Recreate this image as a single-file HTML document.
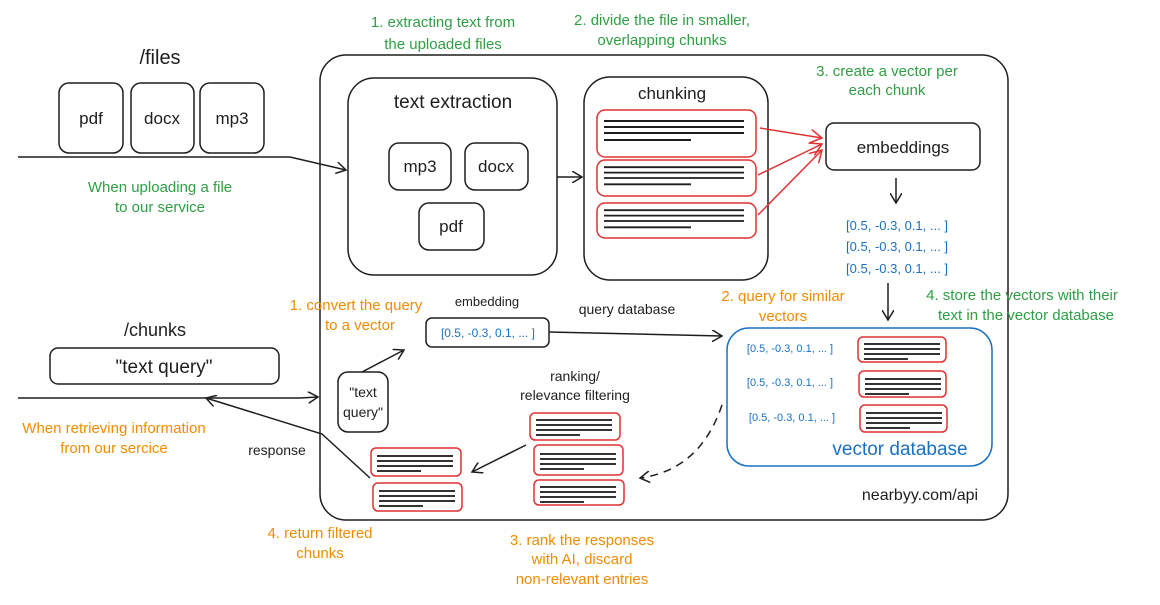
<!DOCTYPE html>
<html><head><meta charset="utf-8"><style>
body{margin:0;background:#fff;width:1160px;height:600px;overflow:hidden}
text{font-family:"Liberation Sans",sans-serif}
.g{fill:#2f9e44;font-size:15px}
.o{fill:#f08c00;font-size:15px}
.k{fill:#1e1e1e}
.b{fill:#1971c2}
</style></head><body>
<svg width="1160" height="600" viewBox="0 0 1160 600" xmlns="http://www.w3.org/2000/svg">
<defs>
<marker id="ak" markerWidth="12" markerHeight="12" refX="10" refY="6" orient="auto" markerUnits="userSpaceOnUse"><path d="M0,0 L10,6 L0,12" fill="none" stroke="#1e1e1e" stroke-width="1.5"/></marker>
<marker id="ar" markerWidth="14" markerHeight="14" refX="12" refY="7" orient="auto" markerUnits="userSpaceOnUse"><path d="M0,0 L12,7 L0,14" fill="none" stroke="#e03131" stroke-width="1.5"/></marker>
<g id="lines"><path d="M8,8 H148 M8,14 H148 M8,20 H148 M8,27 H95" stroke="#1e1e1e" stroke-width="2"/></g>
<g id="sl"><path d="M6,7 H82 M6,12 H82 M6,17 H82 M6,22 H50" stroke="#333" stroke-width="2"/></g>
</defs>
<g fill="none" stroke="#1e1e1e" stroke-width="1.5">
<rect x="320" y="55" width="688" height="465" rx="26"/>
<rect x="348" y="78" width="209" height="197" rx="26"/>
<rect x="389" y="143" width="62" height="47" rx="10"/>
<rect x="465" y="143" width="63" height="47" rx="10"/>
<rect x="419" y="203" width="65" height="47" rx="10"/>
<rect x="584" y="77" width="184" height="203" rx="26"/>
<rect x="826" y="123" width="154" height="47" rx="8"/>
<rect x="59" y="83" width="64" height="70" rx="10"/>
<rect x="131" y="83" width="63" height="70" rx="10"/>
<rect x="200" y="83" width="64" height="70" rx="10"/>
<rect x="50" y="348" width="229" height="36" rx="8"/>
<rect x="426" y="318" width="123" height="29" rx="6"/>
<rect x="338" y="372" width="50" height="60" rx="10"/>
</g>
<rect x="727" y="328" width="265" height="138" rx="22" fill="none" stroke="#1971c2" stroke-width="1.5"/>
<g fill="none" stroke="#e03131" stroke-width="1.5">
<rect x="597" y="110" width="159" height="47" rx="8"/>
<rect x="597" y="160" width="159" height="36" rx="8"/>
<rect x="597" y="203" width="159" height="35" rx="8"/>
<rect x="858" y="337" width="88" height="25" rx="5"/>
<rect x="859" y="371" width="87" height="26" rx="5"/>
<rect x="860" y="405" width="87" height="27" rx="5"/>
<rect x="371" y="448" width="90" height="28" rx="5"/>
<rect x="373" y="483" width="89" height="28" rx="5"/>
<rect x="530" y="413" width="90" height="27" rx="5"/>
<rect x="534" y="445" width="89" height="30" rx="5"/>
<rect x="534" y="480" width="90" height="25" rx="5"/>
</g>
<use href="#lines" x="596" y="113"/>
<g transform="translate(596,160) scale(1,0.9)"><use href="#lines"/></g>
<g transform="translate(596,203) scale(1,0.9)"><use href="#lines"/></g>
<use href="#sl" x="858" y="337"/><use href="#sl" x="859" y="372"/><use href="#sl" x="860" y="406"/>
<use href="#sl" x="371" y="449"/><use href="#sl" x="373" y="484"/>
<use href="#sl" x="530" y="413"/><use href="#sl" x="534" y="447"/><use href="#sl" x="534" y="480"/>
<g fill="none" stroke="#1e1e1e" stroke-width="1.5">
<path d="M18,157 H290 L346,170" marker-end="url(#ak)"/>
<path d="M557,177 H582" marker-end="url(#ak)"/>
<path d="M896,178 V203" marker-end="url(#ak)"/>
<path d="M888,283 V320" marker-end="url(#ak)"/>
<path d="M549,332 L722,336" marker-end="url(#ak)"/>
<path d="M362,372 L404,350" marker-end="url(#ak)"/>
<path d="M526,445 L472,472" marker-end="url(#ak)"/>
<path d="M722,405 Q700,470 640,478" stroke-dasharray="8 6" marker-end="url(#ak)"/>
<path d="M18,398 H300 L318,397" marker-end="url(#ak)"/>
<path d="M370,478 L322,434 L206,398" marker-end="url(#ak)"/>
</g>
<g fill="none" stroke="#e03131" stroke-width="1.5">
<path d="M760,128 L822,138" marker-end="url(#ar)"/>
<path d="M758,175 L822,144" marker-end="url(#ar)"/>
<path d="M758,215 L822,150" marker-end="url(#ar)"/>
</g>
<g text-anchor="middle">
<text x="160" y="64" class="k" font-size="20">/files</text>
<text x="91" y="124" class="k" font-size="17">pdf</text>
<text x="162" y="124" class="k" font-size="17">docx</text>
<text x="232" y="124" class="k" font-size="17">mp3</text>
<text x="453" y="108" class="k" font-size="19">text extraction</text>
<text x="420" y="172" class="k" font-size="17">mp3</text>
<text x="496" y="172" class="k" font-size="17">docx</text>
<text x="451" y="232" class="k" font-size="17">pdf</text>
<text x="672" y="99" class="k" font-size="17">chunking</text>
<text x="903" y="153" class="k" font-size="17">embeddings</text>
<text x="160" y="192" class="g">When uploading a file</text>
<text x="160" y="212" class="g">to our service</text>
<text x="443" y="27" class="g">1. extracting text from</text>
<text x="443" y="49" class="g">the uploaded files</text>
<text x="662" y="25" class="g">2. divide the file in smaller,</text>
<text x="662" y="45" class="g">overlapping chunks</text>
<text x="887" y="76" class="g">3. create a vector per</text>
<text x="887" y="95" class="g">each chunk</text>
<text x="1022" y="300" class="g">4. store the vectors with their</text>
<text x="1026" y="320" class="g">text in the vector database</text>
<text x="356" y="310" class="o">1. convert the query</text>
<text x="360" y="330" class="o">to a vector</text>
<text x="783" y="301" class="o">2. query for similar</text>
<text x="783" y="321" class="o">vectors</text>
<text x="114" y="433" class="o">When retrieving information</text>
<text x="114" y="453" class="o">from our sercice</text>
<text x="320" y="538" class="o">4. return filtered</text>
<text x="320" y="558" class="o">chunks</text>
<text x="582" y="545" class="o">3. rank the responses</text>
<text x="582" y="564" class="o">with AI, discard</text>
<text x="582" y="584" class="o">non-relevant entries</text>
<text x="487" y="306" class="k" font-size="13">embedding</text>
<text x="627" y="314" class="k" font-size="14">query database</text>
<text x="488" y="337" class="b" font-size="12">[0.5, -0.3, 0.1, ... ]</text>
<text x="363" y="397" class="k" font-size="14">"text</text>
<text x="363" y="417" class="k" font-size="14">query"</text>
<text x="575" y="381" class="k" font-size="14">ranking/</text>
<text x="575" y="400" class="k" font-size="14">relevance filtering</text>
<text x="277" y="455" class="k" font-size="14">response</text>
<text x="155" y="336" class="k" font-size="18">/chunks</text>
<text x="164" y="373" class="k" font-size="19">"text query"</text>
<text x="897" y="230" class="b" font-size="13">[0.5, -0.3, 0.1, ... ]</text>
<text x="897" y="251" class="b" font-size="13">[0.5, -0.3, 0.1, ... ]</text>
<text x="897" y="273" class="b" font-size="13">[0.5, -0.3, 0.1, ... ]</text>
<text x="790" y="352" class="b" font-size="11">[0.5, -0.3, 0.1, ... ]</text>
<text x="790" y="386" class="b" font-size="11">[0.5, -0.3, 0.1, ... ]</text>
<text x="792" y="421" class="b" font-size="11">[0.5, -0.3, 0.1, ... ]</text>
<text x="900" y="455" class="b" font-size="19">vector database</text>
<text x="920" y="500" class="k" font-size="16">nearbyy.com/api</text>
</g>
</svg>
</body></html>
